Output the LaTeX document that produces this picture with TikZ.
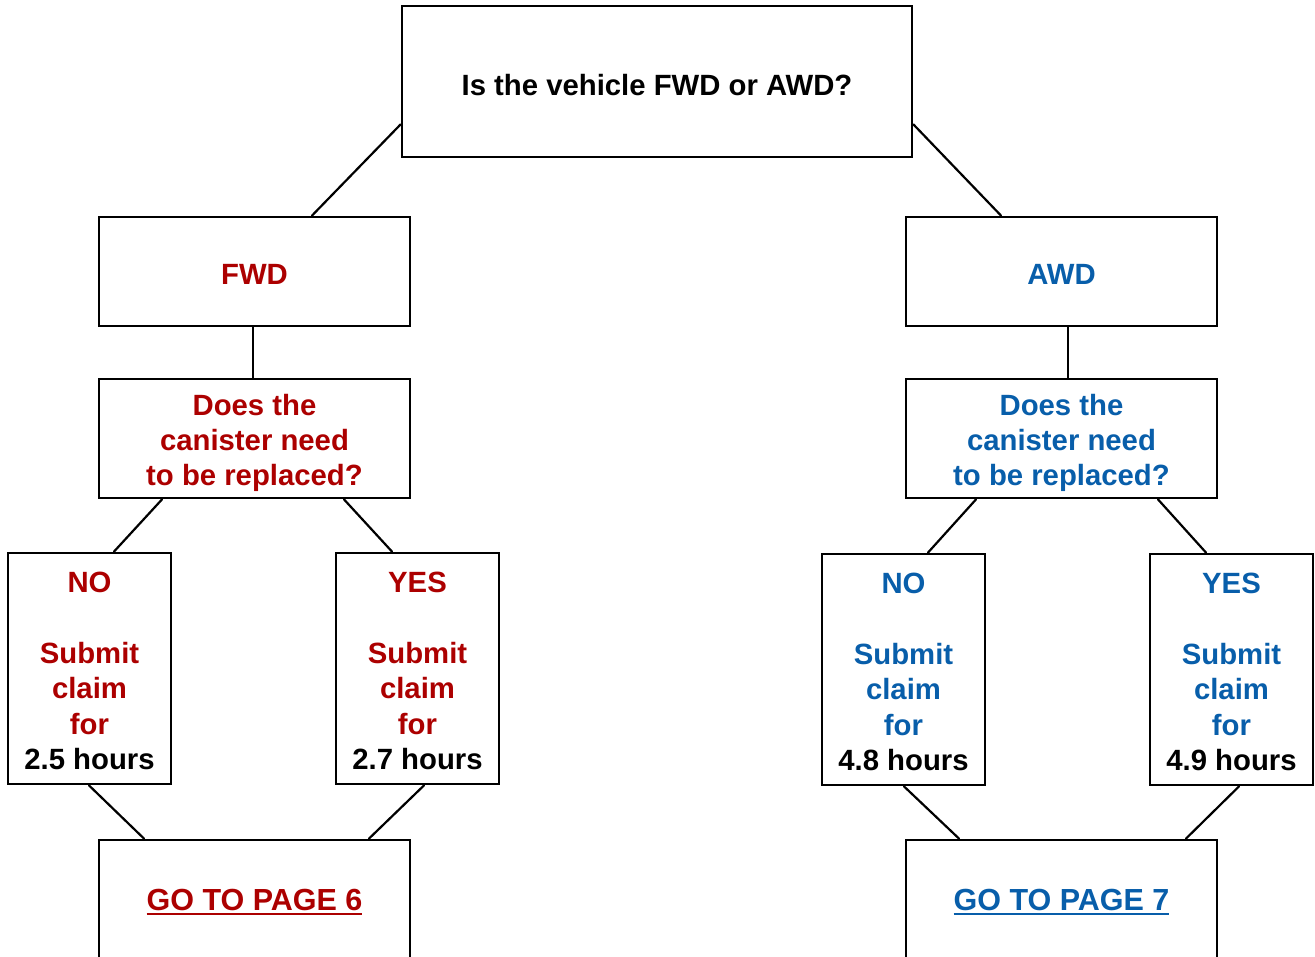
\documentclass[tikz,border=0pt]{standalone}
\usepackage{fontspec}
\setmainfont{Liberation Sans}
\definecolor{fred}{RGB}{172,0,0}
\definecolor{ablue}{RGB}{8,94,170}
\newcommand\ulined[1]{\setbox0\hbox{#1}\rlap{\raisebox{-4.6pt}{\rule{\wd0}{2.5pt}}}\box0}
\tikzset{
  box/.style={draw=black, line width=2.8pt, inner sep=0pt},
  txt/.style={inner sep=0pt, align=center, yshift=-2.5pt,
    font=\fontsize{29.3}{35.4}\selectfont\bfseries},
  wide/.style={box, minimum width=311pt, minimum height=109pt},
  qbox/.style={box, minimum width=311pt, minimum height=119pt},
  leaf/.style={box, minimum width=163pt, minimum height=231pt},
  gobox/.style={box, minimum width=311pt, minimum height=120pt},
  link/.style={line width=2.2pt, line cap=round}
}
\begin{document}
\begin{tikzpicture}[x=1pt,y=-1pt]
\useasboundingbox (0,0) rectangle (1315,957);
\node[box, minimum width=510pt, minimum height=151pt,
  label={[txt, yshift=-1pt]center:Is the vehicle FWD or AWD?}] (top) at (657,81.5) {};
\node[wide, label={[txt, text=fred]center:FWD}] (fwd) at (254.5,271.5) {};
\node[wide, label={[txt, text=ablue]center:AWD}] (awd) at (1061.5,271.5) {};
\node[qbox, label={[txt, text=fred, yshift=-2pt]center:{Does the\\canister need\\to be replaced?}}] (q1) at (254.5,438.5) {};
\node[qbox, label={[txt, text=ablue, yshift=-2pt]center:{Does the\\canister need\\to be replaced?}}] (q2) at (1061.5,438.5) {};
\node[leaf, label={[txt, text=fred]center:{NO\\\mbox{}\\Submit\\claim\\for\\{\color{black}2.5 hours}}}] (no1) at (89.5,668.5) {};
\node[leaf, label={[txt, text=fred]center:{YES\\\mbox{}\\Submit\\claim\\for\\{\color{black}2.7 hours}}}] (yes1) at (417.5,668.5) {};
\node[leaf, label={[txt, text=ablue]center:{NO\\\mbox{}\\Submit\\claim\\for\\{\color{black}4.8 hours}}}] (no2) at (903.5,669.5) {};
\node[leaf, label={[txt, text=ablue]center:{YES\\\mbox{}\\Submit\\claim\\for\\{\color{black}4.9 hours}}}] (yes2) at (1231.5,669.5) {};
\node[gobox, label={[txt, text=fred, font=\fontsize{30.5}{36}\selectfont\bfseries]center:\ulined{GO TO PAGE 6}}] (go1) at (254.5,900) {};
\node[gobox, label={[txt, text=ablue, font=\fontsize{30.5}{36}\selectfont\bfseries]center:\ulined{GO TO PAGE 7}}] (go2) at (1061.5,900) {};
\draw[link] ([yshift=34pt]top.south west) -- ([xshift=57.5pt]fwd.north);
\draw[link] ([yshift=34pt]top.south east) -- ([xshift=-60.5pt]awd.north);
\draw[link] ([xshift=-1.5pt]fwd.south) -- ([xshift=-1.5pt]q1.north);
\draw[link] ([xshift=6.5pt]awd.south) -- ([xshift=6.5pt]q2.north);
\draw[link] ([xshift=-92.5pt]q1.south) -- ([xshift=24.5pt]no1.north);
\draw[link] ([xshift=89.5pt]q1.south) -- ([xshift=-25.5pt]yes1.north);
\draw[link] ([xshift=-85.5pt]q2.south) -- ([xshift=24.5pt]no2.north);
\draw[link] ([xshift=96.5pt]q2.south) -- ([xshift=-25.5pt]yes2.north);
\draw[link] ([xshift=-0.5pt]no1.south) -- ([xshift=-110.5pt]go1.north);
\draw[link] ([xshift=6.5pt]yes1.south) -- ([xshift=114.5pt]go1.north);
\draw[link] ([xshift=0.5pt]no2.south) -- ([xshift=-102.5pt]go2.north);
\draw[link] ([xshift=7.5pt]yes2.south) -- ([xshift=124.5pt]go2.north);
\end{tikzpicture}
\end{document}
